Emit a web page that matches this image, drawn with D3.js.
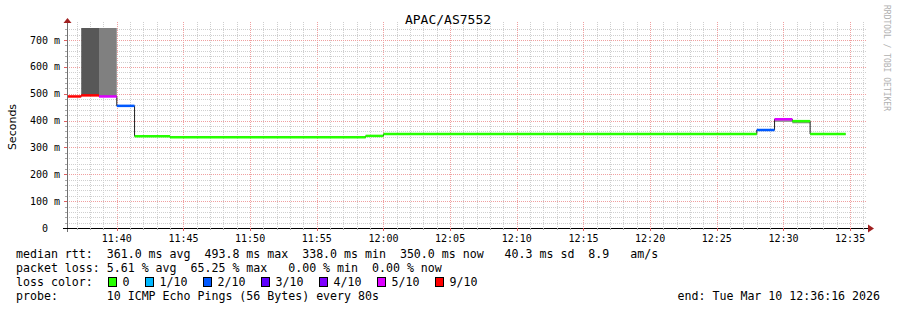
<!DOCTYPE html>
<html>
<head>
<meta charset="utf-8">
<script src="https://cdn.jsdelivr.net/npm/d3@7/dist/d3.min.js"></script>
<style>
  html, body { margin: 0; padding: 0; background: #fff; }
  svg text { white-space: pre; }
</style>
</head>
<body>
<svg id="chart" width="897" height="310"></svg>
<script>
// --- data ---
const TITLE = 'APAC/AS7552';
const WIN_START = '11:36:16', WIN_END = '12:36:16';

// each step: start time, median rtt (ms), lost pings out of 10
const STEP_START = ['11:36:00','11:37:20','11:38:40','11:40:00','11:41:20','11:44:00',
                    '11:58:40','12:00:00','12:28:00','12:29:20','12:30:40','12:32:00'];
const STEP_END = '12:34:40';
const MEDIAN = [490, 494, 490, 455, 342, 338, 343, 350, 365, 405, 398, 350];
const LOSS   = [9, 9, 5, 2, 0, 0, 0, 0, 2, 5, 0, 0];
// smoke (spread of pings) per step, ms; null = none
const SMOKE_LO = [null, 494, 490, null, null, null, null, null, null, 395, 390, null];
const SMOKE_HI = [null, 900, 900, null, null, null, null, null, null, 405, 398, null];
const SMOKE_GRAY = [null, '#585858', '#808080', null, null, null, null, null, null, '#9a9a9a', '#8a8a8a', null];

const Y_TICKS = [0, 100, 200, 300, 400, 500, 600, 700];
const LOSS_LEGEND = [0, 1, 2, 3, 4, 5, 9];
const LOSS_LABEL = ['0', '1/10', '2/10', '3/10', '4/10', '5/10', '9/10'];
const LOSS_COLOR = {0:'#26ff00', 1:'#00b8ff', 2:'#0059ff', 3:'#5e00ff', 4:'#7e00ff', 5:'#dd00ff', 9:'#ff0000'};

const LEGEND_LINES = [
  'median rtt:  361.0 ms avg  493.8 ms max  338.0 ms min  350.0 ms now   40.3 ms sd  8.9   am/s',
  'packet loss: 5.61 % avg  65.25 % max   0.00 % min  0.00 % now',
  'loss color:',
  'probe:       10 ICMP Echo Pings (56 Bytes) every 80s'
];
const END_TEXT = 'end: Tue Mar 10 12:36:16 2026';

// --- layout ---
const L = 67, R = 867, TOP = 28, BOT = 228;
const MONO = 'DejaVu Sans Mono, monospace';
const parse = d3.timeParse('%H:%M:%S');

const x = d3.scaleTime().domain([parse(WIN_START), parse(WIN_END)]).range([L, R]);
const y = d3.scaleLinear().domain([0, 745]).range([BOT, TOP]);

const svg = d3.select('#chart');
svg.append('rect').attr('width', 897).attr('height', 310).attr('fill', '#fff');

svg.append('defs').append('clipPath').attr('id', 'plot')
  .append('rect').attr('x', L).attr('y', TOP).attr('width', R - L).attr('height', BOT - TOP);

// grid
const grid = svg.append('g');
const minorX = d3.timeMinute.range(parse(WIN_START), parse(WIN_END));
minorX.forEach(t => {
  const major = t.getMinutes() % 5 === 0;
  grid.append('line')
    .attr('x1', Math.round(x(t)) + 0.5).attr('x2', Math.round(x(t)) + 0.5)
    .attr('y1', TOP - 6).attr('y2', BOT)
    .attr('stroke', major ? '#f0a0a0' : '#cfcfcf')
    .attr('stroke-dasharray', '1,1');
});
d3.range(0, 745, 20).forEach(v => {
  if (v === 0) return;
  const major = v % 100 === 0;
  grid.append('line')
    .attr('x1', L).attr('x2', R)
    .attr('y1', Math.round(y(v)) + 0.5).attr('y2', Math.round(y(v)) + 0.5)
    .attr('stroke', major ? '#f0a0a0' : '#cfcfcf')
    .attr('stroke-dasharray', '1,1');
});

// steps
const steps = STEP_START.map((s, i) => ({
  t0: parse(s), t1: parse(STEP_START[i + 1] || STEP_END),
  med: MEDIAN[i], loss: LOSS[i],
  lo: SMOKE_LO[i], hi: SMOKE_HI[i], gray: SMOKE_GRAY[i]
}));

const plot = svg.append('g').attr('clip-path', 'url(#plot)');

// smoke
plot.selectAll('rect.smoke').data(steps.filter(d => d.lo != null)).join('rect')
  .attr('class', 'smoke')
  .attr('x', d => x(d.t0)).attr('width', d => x(d.t1) - x(d.t0))
  .attr('y', d => y(d.hi)).attr('height', d => y(d.lo) - y(d.hi))
  .attr('fill', d => d.gray);

// dark median step line (shows the vertical transitions)
const stepPts = [];
steps.forEach(d => { stepPts.push([d.t0, d.med]); stepPts.push([d.t1, d.med]); });
plot.append('path')
  .attr('d', d3.line().x(d => x(d[0])).y(d => y(d[1]))(stepPts))
  .attr('fill', 'none').attr('stroke', '#202020').attr('stroke-width', 1);

// loss-coloured median segments
plot.selectAll('line.med').data(steps).join('line')
  .attr('class', 'med')
  .attr('x1', d => x(d.t0)).attr('x2', d => x(d.t1))
  .attr('y1', d => y(d.med)).attr('y2', d => y(d.med))
  .attr('stroke', d => LOSS_COLOR[d.loss]).attr('stroke-width', 2.5);

// axes
svg.append('line').attr('x1', L + 0.5).attr('x2', L + 0.5).attr('y1', BOT + 4).attr('y2', TOP - 6)
  .attr('stroke', '#707070');
svg.append('path').attr('d', `M${L - 3.5},${TOP - 5} L${L + 4.5},${TOP - 5} L${L + 0.5},${TOP - 10} Z`)
  .attr('fill', '#a02020');
svg.append('line').attr('x1', L - 4).attr('x2', R + 2).attr('y1', BOT + 0.5).attr('y2', BOT + 0.5)
  .attr('stroke', '#000');
svg.append('path').attr('d', `M${R + 1},${BOT - 3.5} L${R + 1},${BOT + 4.5} L${R + 7},${BOT + 0.5} Z`)
  .attr('fill', '#a02020');

// ticks
minorX.forEach(t => {
  const major = t.getMinutes() % 5 === 0;
  svg.append('line').attr('x1', Math.round(x(t)) + 0.5).attr('x2', Math.round(x(t)) + 0.5)
    .attr('y1', BOT).attr('y2', BOT + (major ? 3 : 2))
    .attr('stroke', major ? '#e06060' : '#aaa');
});
d3.range(20, 745, 20).forEach(v => {
  const major = v % 100 === 0;
  svg.append('line').attr('x1', L - (major ? 3 : 2)).attr('x2', L)
    .attr('y1', Math.round(y(v)) + 0.5).attr('y2', Math.round(y(v)) + 0.5)
    .attr('stroke', major ? '#e06060' : '#aaa');
});

// tick labels
const xTicks = d3.timeMinute.every(5).range(parse(WIN_START), parse(WIN_END));
svg.selectAll('text.xt').data(xTicks).join('text')
  .attr('class', 'xt')
  .attr('x', d => x(d)).attr('y', 238)
  .attr('text-anchor', 'middle').attr('dominant-baseline', 'central')
  .attr('font-family', MONO).attr('font-size', 10).attr('fill', '#000')
  .text(d3.timeFormat('%H:%M'));
svg.selectAll('text.yt').data(Y_TICKS).join('text')
  .attr('class', 'yt')
  .attr('x', 60).attr('y', d => y(d))
  .attr('text-anchor', 'end').attr('dominant-baseline', 'central')
  .attr('font-family', MONO).attr('font-size', 10).attr('fill', '#000')
  .text(d => d === 0 ? '0  ' : `${d} m`);

// titles
svg.append('text').attr('x', 448).attr('y', 19)
  .attr('text-anchor', 'middle').attr('dominant-baseline', 'central')
  .attr('font-family', MONO).attr('font-size', 13).attr('fill', '#000')
  .text(TITLE);
svg.append('text').attr('transform', 'translate(12,127) rotate(-90)')
  .attr('text-anchor', 'middle').attr('dominant-baseline', 'central')
  .attr('font-family', 'DejaVu Sans, sans-serif').attr('font-size', 11).attr('fill', '#000')
  .text('Seconds');
svg.append('text').attr('transform', 'translate(886,5) rotate(90)')
  .attr('text-anchor', 'start').attr('dominant-baseline', 'central')
  .attr('font-family', MONO).attr('font-size', 8).attr('fill', '#b0b0b0')
  .text('RRDTOOL / TOBI OETIKER');

// legend
const CH = 7;
const LEG_Y = [254, 268, 282, 296];
LEGEND_LINES.forEach((s, i) => {
  svg.append('text').attr('x', 16).attr('y', LEG_Y[i])
    .attr('dominant-baseline', 'central')
    .attr('font-family', MONO).attr('font-size', 11.6).attr('fill', '#000')
    .text(s);
});
let cur = 16 + 13 * CH;
LOSS_LEGEND.forEach((k, i) => {
  svg.append('rect').attr('x', cur + 1.5).attr('y', LEG_Y[2] - 4.5)
    .attr('width', 8).attr('height', 9)
    .attr('fill', LOSS_COLOR[k]).attr('stroke', '#000').attr('stroke-width', 1);
  const tx = cur + 15.5;
  svg.append('text').attr('x', tx).attr('y', LEG_Y[2])
    .attr('dominant-baseline', 'central')
    .attr('font-family', MONO).attr('font-size', 11.6).attr('fill', '#000')
    .text(LOSS_LABEL[i]);
  cur = tx + LOSS_LABEL[i].length * CH + 14.5;
});
svg.append('text').attr('x', 880).attr('y', LEG_Y[3])
  .attr('text-anchor', 'end').attr('dominant-baseline', 'central')
  .attr('font-family', MONO).attr('font-size', 11.6).attr('fill', '#000')
  .text(END_TEXT);
</script>
</body>
</html>
